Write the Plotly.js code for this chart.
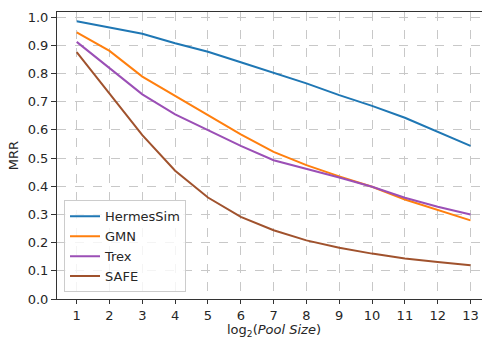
<!DOCTYPE html>
<html>
<head>
<meta charset="utf-8">
<script src="https://cdn.plot.ly/plotly-3.0.1.min.js"></script>
<style>html,body{margin:0;padding:0;background:#fff;}#chart{width:482px;height:337px;}</style>
</head>
<body>
<div id="chart"></div>
<script>
const xValues = [1, 2, 3, 4, 5, 6, 7, 8, 9, 10, 11, 12, 13];
const hermesSim = [0.985, 0.963, 0.941, 0.907, 0.877, 0.840, 0.802, 0.765, 0.723, 0.685, 0.643, 0.593, 0.543];
const gmn = [0.946, 0.880, 0.789, 0.720, 0.652, 0.584, 0.522, 0.475, 0.435, 0.398, 0.353, 0.315, 0.279];
const trex = [0.912, 0.819, 0.726, 0.655, 0.599, 0.543, 0.492, 0.462, 0.431, 0.398, 0.359, 0.327, 0.300];
const safe = [0.876, 0.728, 0.581, 0.455, 0.360, 0.291, 0.244, 0.208, 0.182, 0.161, 0.144, 0.131, 0.120];
const seriesNames = ["HermesSim", "GMN", "Trex", "SAFE"];
const seriesColors = ["#1f77b4", "#ff7f0e", "#9b4fb6", "#a0522d"];
const seriesData = [hermesSim, gmn, trex, safe];
const xTitle = "log<sub>2</sub>(<i>Pool Size</i>)";
const yTitle = "MRR";

const traces = seriesData.map((ys, i) => ({
  x: xValues, y: ys, type: "scatter", mode: "lines", name: seriesNames[i],
  line: {color: seriesColors[i], width: 2}
}));

const font = {family: "DejaVu Sans", size: 13, color: "#262626"};
const layout = {
  width: 482, height: 337,
  margin: {l: 57, r: 0, t: 12, b: 38},
  paper_bgcolor: "#fff", plot_bgcolor: "#fff",
  font: font,
  showlegend: true,
  legend: {
    x: 0.0165, y: 0.023, xanchor: "left", yanchor: "bottom",
    bgcolor: "rgba(255,255,255,0.8)", bordercolor: "#cccccc", borderwidth: 1,
    font: {family: "DejaVu Sans", size: 13, color: "#262626"},
    itemwidth: 30
  },
  xaxis: {
    range: [0.4, 13.35], tickvals: xValues, ticktext: xValues.map(String),
    showline: true, linecolor: "#333", linewidth: 1, mirror: true,
    ticks: "outside", ticklen: 4, tickcolor: "#333",
    showgrid: true, gridcolor: "#c8c8c8", griddash: "dash", gridwidth: 1,
    zeroline: false,
    tickfont: font
  },
  yaxis: {
    range: [0, 1.018], dtick: 0.1, tick0: 0, tickformat: ".1f",
    showline: true, linecolor: "#333", linewidth: 1, mirror: false,
    ticks: "outside", ticklen: 5, tickcolor: "#333",
    showgrid: true, gridcolor: "#c8c8c8", griddash: "dash", gridwidth: 1,
    zeroline: false,
    title: {text: yTitle, font: font, standoff: 6},
    tickfont: font
  },
  annotations: [{
    text: xTitle, xref: "paper", yref: "paper", x: 0.5106, y: 0,
    xanchor: "center", yanchor: "middle", yshift: -31, showarrow: false, font: font
  }]
};
Plotly.newPlot("chart", traces, layout, {displayModeBar: false, staticPlot: true});
</script>
</body>
</html>
